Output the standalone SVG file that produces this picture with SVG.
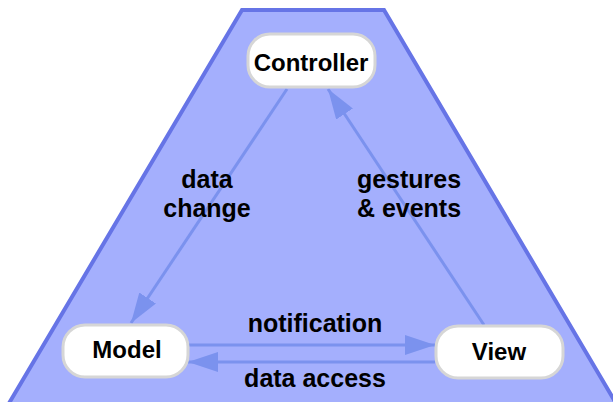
<svg xmlns="http://www.w3.org/2000/svg" width="613" height="402" viewBox="0 0 613 402">
<style>
.node rect{fill:#ffffff;stroke:#d6d6d6;stroke-width:3}
.node text{font-family:"Liberation Sans",Arial,sans-serif;font-weight:bold;font-size:24px;fill:#000;text-anchor:middle}
.lbl{font-family:"Liberation Sans",Arial,sans-serif;font-weight:bold;font-size:25px;fill:#000;text-anchor:middle}
.conn{stroke:#7b92ee;stroke-width:3;fill:none}
</style>
<defs>
<marker id="ahb" viewBox="0 0 30 20" refX="30" refY="10" markerWidth="30" markerHeight="20" markerUnits="userSpaceOnUse" orient="auto">
<path d="M0,0 L30,10 L0,20 z" fill="#7b92ee"/>
</marker>
</defs>
<g id="frame">
<polygon points="242,10 384,10 620,410 5,410" fill="#a4affd" stroke="#6674e6" stroke-width="4" stroke-linejoin="miter"/>
</g>
<g id="connectors">
<line class="conn" x1="287" y1="89" x2="131" y2="323" marker-end="url(#ahb)"/>
<line class="conn" x1="484" y1="325" x2="328" y2="89" marker-end="url(#ahb)"/>
<line class="conn" x1="189" y1="345" x2="435" y2="345" marker-end="url(#ahb)"/>
<line class="conn" x1="435" y1="362" x2="188" y2="362" marker-end="url(#ahb)"/>
</g>
<g id="labels">
<text class="lbl" x="207" y="188">data</text>
<text class="lbl" x="207" y="217">change</text>
<text class="lbl" x="409" y="188">gestures</text>
<text class="lbl" x="409" y="217">&amp; events</text>
<text class="lbl" x="315" y="332">notification</text>
<text class="lbl" x="315" y="387">data access</text>
</g>
<g id="controller" class="node">
<rect x="248" y="34" width="127" height="53" rx="22"/>
<text x="311" y="71">Controller</text>
</g>
<g id="model" class="node">
<rect x="63" y="325" width="125" height="52" rx="22"/>
<text x="127" y="358">Model</text>
</g>
<g id="view" class="node">
<rect x="436" y="326" width="127" height="52" rx="22"/>
<text x="499" y="360">View</text>
</g>
</svg>
